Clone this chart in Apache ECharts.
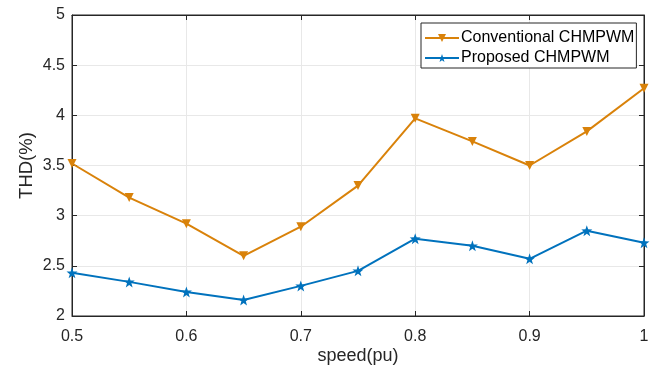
<!DOCTYPE html>
<html><head><meta charset="utf-8">
<script src="https://cdn.jsdelivr.net/npm/echarts@6/dist/echarts.min.js"></script>
<style>html,body{margin:0;padding:0;background:#fff}#c{width:666px;height:369px}</style>
</head><body><div id="c"></div>
<script>
const speed = [0.5,0.55,0.6,0.65,0.7,0.75,0.8,0.85,0.9,0.95,1.0];
const conventional = [3.52,3.18,2.92,2.60,2.89,3.30,3.97,3.74,3.50,3.84,4.27];
const proposed = [2.43,2.34,2.24,2.16,2.30,2.45,2.77,2.70,2.57,2.85,2.73];
const seriesNames = ['Conventional CHMPWM','Proposed CHMPWM'];
const xTitle = 'speed(pu)';
const yTitle = 'THD(%)';

const font = 'Liberation Sans, Arial, Helvetica, sans-serif';
const axisCol = '#262626';
const chart = echarts.init(document.getElementById('c'));
const pair = (xs, ys) => xs.map((x,i)=>[x,ys[i]]);
const fmt = v => String(Math.round(v*10)/10);
chart.setOption({
  animation:false,
  backgroundColor:'#fff',
  grid:{left:72,right:22,top:15,bottom:53,containLabel:false,outerBoundsMode:'none',
        show:true,borderColor:axisCol,borderWidth:1,backgroundColor:'transparent'},
  legend:{
    orient:'vertical', left:421, top:23, padding:[7,2,2,3], itemGap:4,
    borderColor:axisCol, borderWidth:1, backgroundColor:'#fff',
    itemWidth:34, itemHeight:10,
    textStyle:{fontFamily:font,fontSize:16,color:'#000',padding:[0,0,0,-3]},
    data:seriesNames
  },
  xAxis:[{
    type:'value', min:0.5, max:1, interval:0.1,
    name:xTitle, nameLocation:'middle', nameGap:31, nameMoveOverlap:false,
    nameTextStyle:{fontFamily:font,fontSize:18,color:axisCol},
    axisLine:{show:true,onZero:false,lineStyle:{color:axisCol}},
    axisTick:{show:true,inside:true,length:5,lineStyle:{color:axisCol}},
    axisLabel:{fontFamily:font,fontSize:16,color:axisCol,margin:13,formatter:fmt},
    splitLine:{show:true,lineStyle:{color:'#e8e8e8'}}
  },{
    type:'value', position:'top', min:0.5, max:1, interval:0.1,
    axisLine:{show:true,onZero:false,lineStyle:{color:axisCol}},
    axisTick:{show:true,inside:true,length:5,lineStyle:{color:axisCol}},
    axisLabel:{show:false}, splitLine:{show:false}
  }],
  yAxis:[{
    type:'value', min:2, max:5, interval:0.5,
    name:yTitle, nameLocation:'middle', nameGap:36, nameRotate:90, nameMoveOverlap:false,
    nameTextStyle:{fontFamily:font,fontSize:18.5,color:axisCol},
    axisLine:{show:true,onZero:false,lineStyle:{color:axisCol}},
    axisTick:{show:true,inside:true,length:5,lineStyle:{color:axisCol}},
    axisLabel:{fontFamily:font,fontSize:16,color:axisCol,margin:7,formatter:fmt},
    splitLine:{show:true,lineStyle:{color:'#e8e8e8'}}
  },{
    type:'value', position:'right', min:2, max:5, interval:0.5,
    axisLine:{show:true,onZero:false,lineStyle:{color:axisCol}},
    axisTick:{show:true,inside:true,length:5,lineStyle:{color:axisCol}},
    axisLabel:{show:false}, splitLine:{show:false}
  }],
  series:[{
    name:seriesNames[0], type:'line', data:pair(speed,conventional),
    symbol:'triangle', symbolRotate:180, symbolSize:9,
    lineStyle:{color:'#D9820A',width:2}, itemStyle:{color:'#D9820A'}
  },{
    name:seriesNames[1], type:'line', data:pair(speed,proposed),
    symbol:'path://M0,-10 L2.35,-3.24 L9.51,-3.09 L3.8,1.24 L5.88,8.09 L0,4 L-5.88,8.09 L-3.8,1.24 L-9.51,-3.09 L-2.35,-3.24 Z',
    symbolSize:11,
    lineStyle:{color:'#0072BD',width:2}, itemStyle:{color:'#0072BD'}
  }]
});
</script></body></html>
